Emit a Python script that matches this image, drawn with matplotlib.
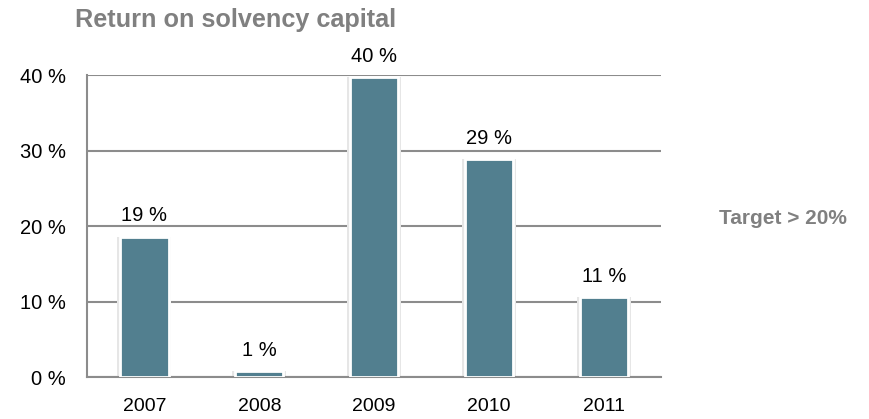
import matplotlib.pyplot as plt

plt.rcParams['font.family'] = ['Liberation Sans', 'DejaVu Sans']

years = ['2007', '2008', '2009', '2010', '2011']
values = [18.6, 0.8, 39.7, 28.9, 10.6]
labels = ['19 %', '1 %', '40 %', '29 %', '11 %']
yticks = [0, 10, 20, 30, 40]

fig = plt.figure(figsize=(8.7, 4.19), dpi=100)
ax = fig.add_axes([0.1, 0.1, 0.66, 0.721])

x = range(len(years))
# faint shadow behind the bars
ax.bar(x, [v + 0.25 for v in values], width=0.47, bottom=-0.25, color='#e6e6e6', linewidth=0, zorder=2)
ax.bar(x, values, width=0.42, color='#527f8f', edgecolor='white', linewidth=2, zorder=3)
for i in x:
    ax.text(i, values[i] + 1.5, labels[i], ha='center', va='bottom', fontsize=14.5, color='black')

ax.set_xlim(-0.5, 4.5)
ax.set_ylim(0, 40)
ax.set_yticks(yticks)
ax.set_yticklabels([str(t) + ' %' for t in yticks], fontsize=14.5)
ax.set_xticks(list(x))
ax.set_xticklabels(years, fontsize=14)
ax.tick_params(axis='both', length=0)
ax.tick_params(axis='x', pad=15)
ax.tick_params(axis='y', pad=15)
ax.grid(axis='y', color='#8c8c8c', linewidth=1.5, zorder=0)
for s in ['top', 'right']:
    ax.spines[s].set_visible(False)
for s in ['left', 'bottom']:
    ax.spines[s].set_color('#8c8c8c')
    ax.spines[s].set_linewidth(1.5)

fig.text(0.086, 0.952, 'Return on solvency capital', fontsize=18.2, fontweight='bold',
         color='#808080', va='center', ha='left')
fig.text(0.827, 0.479, 'Target > 20%', fontsize=15, fontweight='bold',
         color='#808080', va='center', ha='left')

fig.savefig('out.png', dpi=100)
